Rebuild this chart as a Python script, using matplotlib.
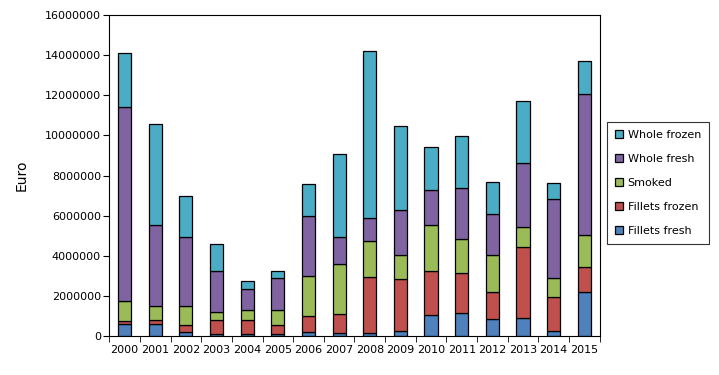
import matplotlib
matplotlib.use("Agg")
import matplotlib.pyplot as plt
import numpy as np
from matplotlib.ticker import FixedLocator, NullFormatter

years = [str(y) for y in range(2000, 2016)]
fillets_fresh = [0.63, 0.63, 0.23, 0.10, 0.10, 0.10, 0.23, 0.18, 0.15, 0.28, 1.08, 1.18, 0.88, 0.93, 0.28, 2.22]
fillets_frozen = [0.15, 0.20, 0.35, 0.73, 0.73, 0.48, 0.80, 0.95, 2.82, 2.59, 2.19, 1.99, 1.34, 3.51, 1.69, 1.21]
smoked = [0.98, 0.70, 0.95, 0.40, 0.50, 0.75, 1.99, 2.47, 1.79, 1.19, 2.29, 1.69, 1.84, 1.00, 0.95, 1.63]
whole_fresh = [9.67, 4.03, 3.43, 2.00, 1.01, 1.59, 2.98, 1.36, 1.14, 2.21, 1.70, 2.52, 2.04, 3.20, 3.93, 7.00]
whole_frozen = [2.68, 5.02, 2.01, 1.38, 0.43, 0.31, 1.56, 4.09, 8.31, 4.21, 2.18, 2.59, 1.58, 3.07, 0.80, 1.62]

series = [
    ("Fillets fresh", fillets_fresh, "#4F81BD"),
    ("Fillets frozen", fillets_frozen, "#C0504D"),
    ("Smoked", smoked, "#9BBB59"),
    ("Whole fresh", whole_fresh, "#8064A2"),
    ("Whole frozen", whole_frozen, "#4BACC6"),
]

fig = plt.figure(figsize=(7.19, 3.75), dpi=100)
ax = fig.add_axes([0.152, 0.103, 0.682, 0.858])

x = np.arange(len(years))
bottom = np.zeros(len(years))
handles = []
for name, vals, col in series:
    v = np.array(vals) * 1e6
    b = ax.bar(x, v, 0.43, bottom=bottom, color=col, edgecolor="black", linewidth=0.9, label=name)
    handles.append(b)
    bottom += v

ax.set_xlim(-0.5, len(years) - 0.5)
ax.set_ylim(0, 16000000)
ax.set_yticks(np.arange(0, 16000001, 2000000))
ax.set_yticklabels([str(int(t)) for t in np.arange(0, 16000001, 2000000)], fontsize=8)
ax.set_xticks(x)
ax.set_xticklabels(years, fontsize=8)
ax.tick_params(axis="x", which="major", length=0, pad=6)
ax.xaxis.set_minor_locator(FixedLocator(np.arange(-0.5, len(years), 1)))
ax.xaxis.set_minor_formatter(NullFormatter())
ax.tick_params(axis="x", which="minor", length=4, direction="out")
ax.tick_params(axis="y", length=4, direction="out", pad=2)
ax.set_ylabel("Euro", fontsize=10, labelpad=12)

leg = ax.legend(handles[::-1], [s[0] for s in series][::-1], loc="upper left",
                bbox_to_anchor=(1.004, 0.684), fontsize=8, frameon=True, fancybox=False,
                edgecolor="black", handlelength=0.7, handleheight=0.7, labelspacing=1.25,
                borderpad=0.75, handletextpad=0.4)
leg.get_frame().set_linewidth(0.8)

fig.savefig("out.png", dpi=100)
